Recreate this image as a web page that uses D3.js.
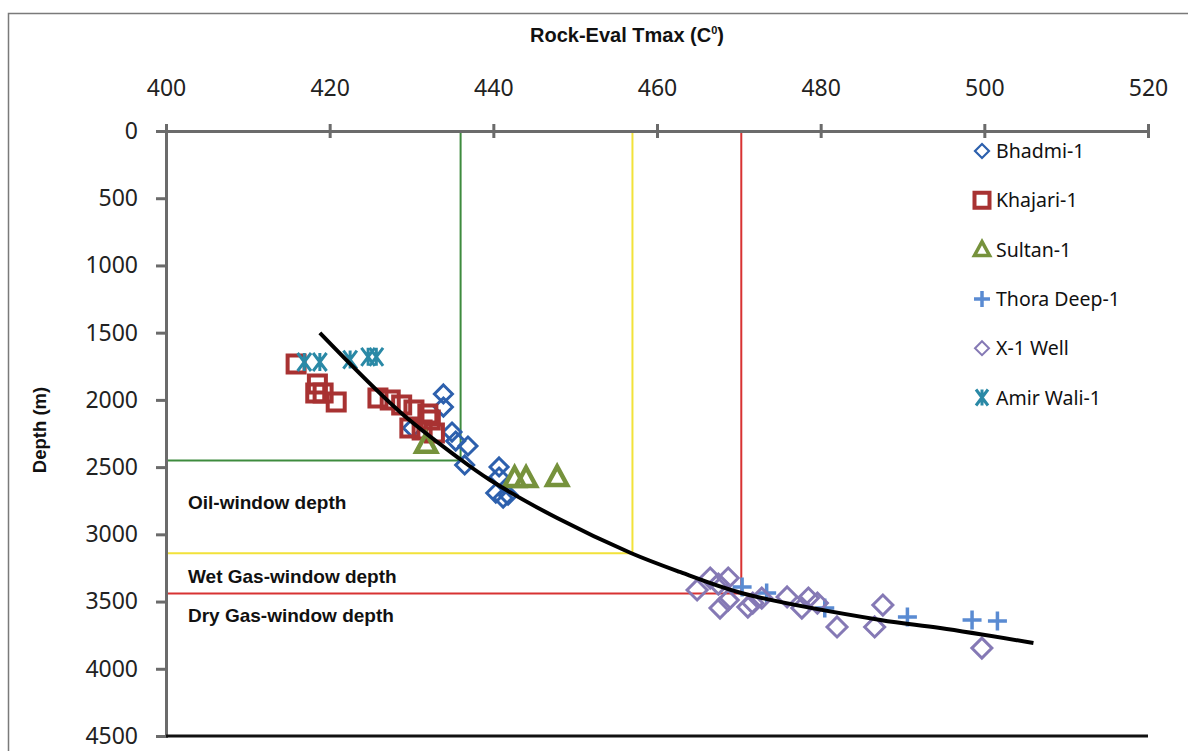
<!DOCTYPE html>
<html>
<head>
<meta charset="utf-8">
<script src="https://cdn.jsdelivr.net/npm/d3@7"></script>
<style>
  html, body { margin: 0; padding: 0; background: #fff; }
  svg { display: block; }
</style>
</head>
<body>
<svg id="chart" width="1188" height="751"></svg>
<script>
// ---- data ----
const xTicks = [400, 420, 440, 460, 480, 500, 520];
const yTicks = [0, 500, 1000, 1500, 2000, 2500, 3000, 3500, 4000, 4500];
const seriesNames = ["Bhadmi-1", "Khajari-1", "Sultan-1", "Thora Deep-1", "X-1 Well", "Amir Wali-1"];

const bhadmi = [[433.9,1956],[433.9,2053],[434.95,2239],[435.4,2306],[436.9,2343],[436.5,2484],
  [440.7,2499],[440.7,2574],[440.3,2693],[441.2,2730],[441.8,2708],[430.1,2209]];
const khajari = [[415.9,1733],[418.5,1882],[418.3,1949],[419.2,1949],[420.8,2016],[425.9,1986],
  [427.4,2001],[428.8,2038],[430.3,2075],[432.0,2105],[429.8,2209],[431.3,2224],[432.8,2246],[432.3,2150]];
const sultan = [[431.8,2328],[442.6,2581],[444.0,2581],[447.8,2574]];
const thora = [[470.4,3392],[473.4,3437],[480.5,3548],[490.6,3615],[498.5,3637],[501.6,3645]];
const x1well = [[464.9,3414],[466.5,3325],[467.5,3370],[468.7,3325],[467.7,3548],[468.7,3489],
  [471.1,3541],[471.7,3511],[472.8,3474],[475.9,3466],[477.7,3548],[478.5,3474],[479.6,3511],
  [482.0,3689],[486.6,3689],[487.6,3526],[499.7,3846]];
const amirWali = [[416.9,1718],[418.8,1718],[422.5,1700],[424.7,1680],[425.7,1680]];

const trendCurve = [[418.8,1502],[428.6,2090],[435.6,2425],[439.6,2596],[447.8,2879],[456.8,3139],
  [462.8,3280],[470.3,3436],[487.3,3637],[494.6,3697],[506.0,3808]];

// window boundaries: [Tmax, depth]
const oilWindow = [436, 2450];
const wetGasWindow = [457, 3140];
const dryGasWindow = [470.3, 3440];
const windowLabels = ["Oil-window depth", "Wet Gas-window depth", "Dry Gas-window depth"];
const windowLabelDepths = [2815, 3365, 3655];

// ---- setup ----
const svg = d3.select("#chart");
const x = d3.scaleLinear().domain([400, 520]).range([166, 1148]);
const y = d3.scaleLinear().domain([0, 4500]).range([131, 736]);

// outer frame
svg.append("rect").attr("x", 8.5).attr("y", 13.5).attr("width", 1186).attr("height", 760)
  .attr("fill", "none").attr("stroke", "#7a7a7a").attr("stroke-width", 1.5);

// title
svg.append("text").attr("x", 627).attr("y", 42).attr("text-anchor", "middle")
  .attr("font-family", "Liberation Sans, Arial, sans-serif").attr("font-weight", "bold")
  .attr("font-size", 20).attr("fill", "#111")
  .call(t => {
    t.append("tspan").text("Rock-Eval Tmax (C");
    t.append("tspan").attr("font-size", 11).attr("dy", -8).text("0");
    t.append("tspan").attr("dy", 8).text(")");
  });

svg.append("text").attr("transform", "translate(46,430) rotate(-90)").attr("text-anchor", "middle")
  .attr("font-family", "Liberation Sans, Arial, sans-serif").attr("font-weight", "bold")
  .attr("font-size", 18.5).attr("fill", "#111").text("Depth (m)");

// reference window lines
const winColors = ["#3e8b3e", "#f2e23a", "#d83232"];
[oilWindow, wetGasWindow, dryGasWindow].forEach((w, i) => {
  svg.append("path")
    .attr("d", `M${x(400)},${y(w[1])}H${x(w[0])}V${y(0)}`)
    .attr("fill", "none").attr("stroke", winColors[i]).attr("stroke-width", 2);
});

// window labels
windowLabels.forEach((lab, i) => {
  svg.append("text").attr("x", 188).attr("y", y(windowLabelDepths[i]))
    .attr("font-family", "Liberation Sans, Arial, sans-serif").attr("font-weight", "bold")
    .attr("font-size", 19).attr("fill", "#111").text(lab);
});

// axes
const axisColor = "#6b6b6b";
const xAxis = svg.append("g").attr("transform", `translate(0,${y(0)})`)
  .call(d3.axisTop(x).tickValues(xTicks).tickSize(7).tickPadding(28).tickFormat(d3.format("d")));
xAxis.selectAll(".tick line").clone().attr("y2", 7);
const yAxis = svg.append("g").attr("transform", `translate(${x(400)},0)`)
  .call(d3.axisLeft(y).tickValues(yTicks).tickSize(10).tickPadding(18).tickFormat(d3.format("d")));
[xAxis, yAxis].forEach(a => {
  a.select(".domain").attr("stroke", axisColor).attr("stroke-width", 3);
  a.selectAll(".tick line").attr("stroke", axisColor).attr("stroke-width", 3);
  a.selectAll(".tick text").attr("font-family", "Noto Sans, sans-serif").attr("font-size", 23)
    .attr("fill", "#222");
});
// bottom black line
svg.append("line").attr("x1", x(400)).attr("x2", x(520)).attr("y1", y(4500)).attr("y2", y(4500))
  .attr("stroke", "#111").attr("stroke-width", 3);

// ---- markers ----
function shape(type, s) {
  switch (type) {
    case "diamond": return `M0,${-s}L${s},0L0,${s}L${-s},0Z`;
    case "square": return `M${-s},${-s}H${s}V${s}H${-s}Z`;
    case "triangle": return `M0,${-s}L${s*0.95},${s*0.75}H${-s*0.95}Z`;
    case "plus": return `M${-s},0H${s}M0,${-s}V${s}`;
    case "asterisk": return `M${-s*0.75},${-s}L${s*0.75},${s}M${s*0.75},${-s}L${-s*0.75},${s}M0,${-s}V${s}`;
  }
}
const series = [
  {name: seriesNames[0], data: bhadmi, type: "diamond", color: "#2d60ad", size: 9, sw: 3, ls: 7, lsw: 2.2},
  {name: seriesNames[1], data: khajari, type: "square", color: "#a83232", size: 8.5, sw: 4, ls: 7.5, lsw: 4},
  {name: seriesNames[2], data: sultan, type: "triangle", color: "#76923c", size: 10.5, sw: 4.5, ls: 8, lsw: 3.5},
  {name: seriesNames[3], data: thora, type: "plus", color: "#5a8bd2", size: 9.5, sw: 3.5, ls: 8, lsw: 3.5},
  {name: seriesNames[4], data: x1well, type: "diamond", color: "#8579b5", size: 10, sw: 3, ls: 7, lsw: 2},
  {name: seriesNames[5], data: amirWali, type: "asterisk", color: "#2a89a6", size: 9, sw: 3, ls: 8, lsw: 3},
];

series.forEach(s => {
  svg.append("g").selectAll("path").data(s.data).join("path")
    .attr("transform", d => `translate(${x(d[0])},${y(d[1])})`)
    .attr("d", shape(s.type, s.size))
    .attr("fill", "none").attr("stroke", s.color).attr("stroke-width", s.sw);
});

// trend curve
svg.append("path").datum(trendCurve)
  .attr("d", d3.line().x(d => x(d[0])).y(d => y(d[1])).curve(d3.curveCatmullRom))
  .attr("fill", "none").attr("stroke", "#000").attr("stroke-width", 4);

// legend
const legend = svg.append("g");
series.forEach((s, i) => {
  const ly = 151 + i * 49.3;
  legend.append("path").attr("transform", `translate(982,${ly})`).attr("d", shape(s.type, s.ls))
    .attr("fill", "none").attr("stroke", s.color).attr("stroke-width", s.lsw);
  legend.append("text").attr("x", 996).attr("y", ly + 7)
    .attr("font-family", "Noto Sans, sans-serif").attr("font-size", 19.5).attr("fill", "#111").text(s.name);
});
</script>
</body>
</html>
